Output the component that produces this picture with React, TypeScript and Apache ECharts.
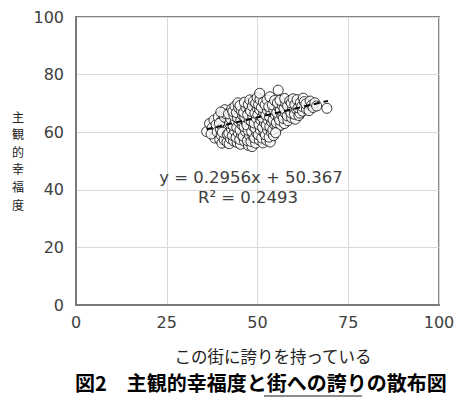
import React, { useEffect, useRef } from "react";
import * as echarts from "echarts";

// 街への誇り (x) vs 主観的幸福度 (y)
const points: [number, number][] = [
  [36.0, 60.2], [36.8, 63.0], [37.5, 61.5], [38.2, 58.0], [38.0, 64.2], [37.2, 59.4], [38.6, 62.6], [38.9, 60.1], [39.2, 65.3], [39.6, 57.5],
  [40.2, 56.2], [40.0, 59.0], [40.4, 61.8], [40.1, 63.9], [40.6, 66.5], [41.0, 67.8], [41.3, 58.3], [41.5, 60.6], [41.2, 62.9], [41.8, 64.8],
  [39.8, 61.0], [40.8, 57.4], [41.6, 56.5], [39.5, 63.1], [40.9, 65.2], [41.9, 61.4], [41.4, 66.3], [39.9, 67.0], [40.3, 60.0], [41.7, 59.2],
  [42.2, 56.0], [42.5, 57.8], [42.1, 59.6], [42.8, 61.2], [42.3, 63.0], [42.6, 64.6], [42.0, 66.4], [42.9, 68.1], [43.4, 57.0], [43.1, 58.9],
  [43.7, 60.4], [43.3, 62.3], [43.9, 64.0], [43.5, 65.7], [43.2, 67.2], [43.8, 69.0], [44.4, 56.4], [44.1, 58.2], [44.7, 59.8], [44.3, 61.7],
  [44.9, 63.5], [44.5, 65.0], [44.2, 66.8], [44.8, 68.5], [44.6, 70.2],
  [45.3, 55.8], [45.1, 57.5], [45.6, 59.1], [45.2, 60.8], [45.8, 62.4], [45.4, 64.1], [45.9, 65.8], [45.5, 67.5], [45.2, 69.3], [46.4, 56.9],
  [46.1, 58.6], [46.7, 60.3], [46.3, 61.9], [46.9, 63.6], [46.5, 65.2], [46.2, 66.9], [46.8, 68.6], [46.4, 70.4], [47.5, 55.4], [47.2, 57.1],
  [47.8, 58.9], [47.4, 60.7], [47.1, 62.5], [47.7, 64.3], [47.3, 66.1], [47.9, 67.8], [47.5, 69.6], [47.9, 71.2],
  [48.5, 55.0], [48.2, 56.8], [48.8, 58.5], [48.4, 60.2], [48.9, 62.0], [48.3, 63.8], [48.7, 65.5], [48.1, 67.3], [48.6, 69.0], [48.9, 70.8],
  [49.5, 56.2], [49.2, 58.0], [49.8, 59.7], [49.4, 61.4], [49.1, 63.2], [49.7, 64.9], [49.3, 66.7], [49.9, 68.4], [49.5, 70.1], [49.9, 72.0],
  [50.5, 57.3], [50.2, 59.1], [50.8, 60.8], [50.4, 62.6], [50.9, 64.3], [50.1, 66.1], [50.6, 67.8], [50.3, 69.6], [50.7, 71.3], [50.6, 73.5],
  [51.5, 56.3], [51.2, 58.0], [51.8, 59.8], [51.4, 61.6], [51.9, 63.3], [51.3, 65.1], [51.7, 66.8], [51.1, 68.6], [51.6, 70.4], [52.5, 57.2],
  [52.2, 59.0], [52.8, 60.7], [52.4, 62.5], [52.9, 64.2], [52.3, 66.0], [52.7, 67.7], [52.1, 69.5], [52.6, 71.2], [53.5, 56.6], [53.2, 58.3],
  [53.8, 60.1], [53.4, 61.9], [53.9, 63.6], [53.3, 65.4], [53.7, 67.1], [53.1, 68.9], [53.4, 72.3],
  [54.4, 58.8], [54.2, 60.8], [54.8, 62.5], [54.3, 64.3], [54.9, 66.0], [54.5, 67.8], [54.1, 69.5], [54.7, 71.0], [55.4, 61.5], [55.2, 63.3],
  [55.8, 65.0], [55.3, 66.8], [55.9, 68.5], [55.5, 70.2], [55.7, 74.6], [56.4, 62.4], [56.1, 64.2], [56.7, 65.9], [56.3, 67.6], [56.8, 69.3],
  [56.2, 71.1], [55.0, 59.8],
  [57.4, 63.0], [57.1, 64.8], [57.7, 66.5], [57.3, 68.2], [57.8, 70.0], [57.5, 71.7], [58.4, 64.0], [58.2, 65.7], [58.8, 67.4], [58.3, 69.1],
  [58.9, 70.9], [59.4, 65.0], [59.2, 66.7], [59.7, 68.4], [59.3, 70.1], [59.8, 71.6],
  [60.4, 64.5], [60.2, 66.2], [60.8, 67.9], [60.3, 69.6], [60.9, 71.3], [61.4, 65.8], [61.7, 66.6], [61.2, 68.5], [61.8, 70.2], [62.4, 67.3],
  [62.2, 69.0], [62.6, 71.8], [62.9, 70.6],
  [63.5, 68.0], [63.3, 69.8], [64.2, 67.5], [64.5, 70.8], [64.9, 69.4], [65.3, 68.6], [65.8, 70.2], [66.3, 69.1],
  [69.1, 68.3],
];

const trendSlope = 0.2956;
const trendIntercept = 50.367;
const trendR2 = 0.2493;
const trendXRange = [36.0, 69.4];

const xTicks = [0, 25, 50, 75, 100];
const yTicks = [0, 20, 40, 60, 80, 100];

const xTitle = "この街に誇りを持っている";
const yTitle = "主観的幸福度";
const captionLead = "図2　主観的幸福度と";
const captionUnder = "街への誇り";
const captionTail = "の散布図";

export default function App() {
  const ref = useRef<HTMLDivElement>(null);
  useEffect(() => {
    document.body.style.margin = "0";
    const chart = echarts.init(ref.current!, null, { renderer: "svg" });
    const trend = trendXRange.map((x) => [x, trendSlope * x + trendIntercept]);
    const labelFont = "'DejaVu Sans', Verdana, sans-serif";
    const jp = "'Noto Sans CJK JP', sans-serif";
    const yTitleChars = yTitle.split("").map((ch, i) => ({
      type: "text",
      x: 18,
      y: 116 + i * 17.6,
      style: {
        text: ch,
        fill: "#222222",
        font: `12px ${jp}`,
        textAlign: "center",
        textVerticalAlign: "middle",
      },
    }));
    chart.setOption({
      animation: false,
      backgroundColor: "#ffffff",
      grid: {
        left: 76,
        right: 27,
        top: 17,
        bottom: 103,
        show: true,
        borderColor: "#858585",
        borderWidth: 2,
      },
      xAxis: {
        type: "value",
        min: xTicks[0],
        max: xTicks[xTicks.length - 1],
        interval: 25,
        axisLine: { show: true, lineStyle: { color: "#7a7a7a", width: 2 } },
        axisTick: { show: false },
        splitLine: { show: true, lineStyle: { color: "#d9d9d9", width: 1 } },
        axisLabel: { color: "#404040", fontSize: 16, fontFamily: labelFont, margin: 9 },
      },
      yAxis: {
        type: "value",
        min: yTicks[0],
        max: yTicks[yTicks.length - 1],
        interval: 20,
        axisLine: { show: true, lineStyle: { color: "#7a7a7a", width: 2 } },
        axisTick: { show: false },
        splitLine: { show: true, lineStyle: { color: "#d9d9d9", width: 1 } },
        axisLabel: { color: "#404040", fontSize: 16, fontFamily: labelFont, margin: 12 },
      },
      series: [
        {
          type: "scatter",
          data: points,
          symbol: "circle",
          symbolSize: 10,
          itemStyle: { color: "#ffffff", borderColor: "#000000", borderWidth: 1 },
          z: 2,
        },
        {
          type: "line",
          data: trend,
          symbol: "none",
          lineStyle: { color: "#000000", width: 2, type: [6, 4] },
          z: 3,
        },
      ],
      graphic: [
        {
          type: "text",
          x: 251,
          y: 177,
          style: {
            text: `y = ${trendSlope}x + ${trendIntercept}`,
            fill: "#404040",
            font: `16.5px ${labelFont}`,
            textAlign: "center",
            textVerticalAlign: "middle",
          },
          z: 10,
        },
        {
          type: "text",
          x: 248,
          y: 197,
          style: {
            text: `R² = ${trendR2}`,
            fill: "#404040",
            font: `16.5px ${labelFont}`,
            textAlign: "center",
            textVerticalAlign: "middle",
          },
          z: 10,
        },
        ...yTitleChars,
        {
          type: "text",
          x: 273,
          y: 356,
          style: {
            text: xTitle,
            fill: "#222222",
            font: `16.5px ${jp}`,
            textAlign: "center",
            textVerticalAlign: "middle",
          },
        },
        {
          type: "text",
          x: 75,
          y: 382,
          style: {
            text: captionLead + captionUnder + captionTail,
            fill: "#000000",
            font: `bold 20px ${jp}`,
            textAlign: "left",
            textVerticalAlign: "middle",
          },
        },
        {
          type: "line",
          shape: { x1: 264, y1: 396, x2: 362, y2: 396 },
          style: { stroke: "#666666", lineWidth: 1.5 },
        },
      ],
    });
    return () => chart.dispose();
  }, []);
  return <div ref={ref} style={{ width: 466, height: 408 }} />;
}
